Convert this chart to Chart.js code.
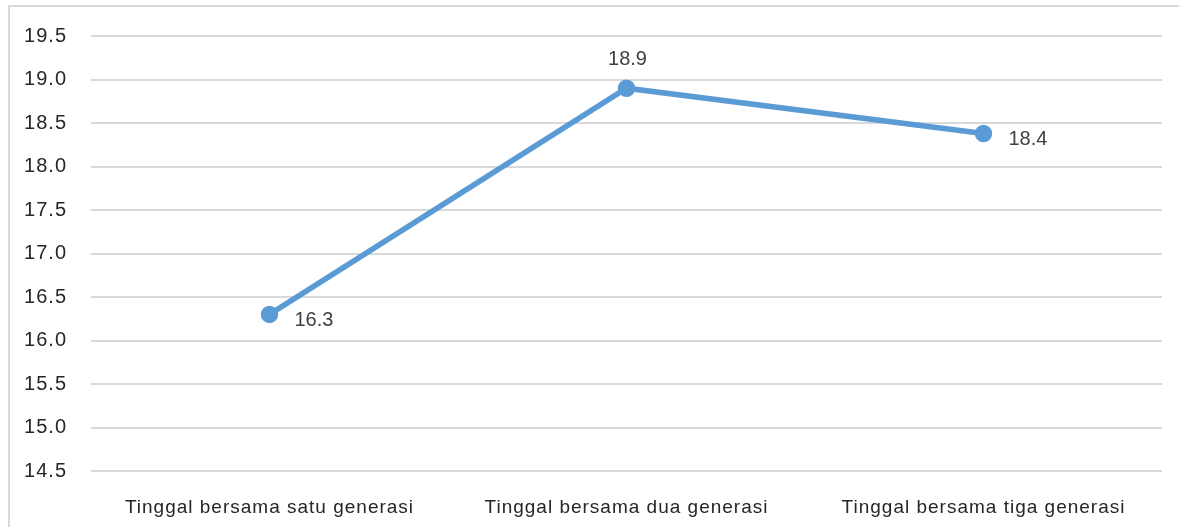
<!DOCTYPE html>
<html>
<head>
<meta charset="utf-8">
<script src="https://cdn.jsdelivr.net/npm/chart.js@4/dist/chart.umd.min.js"></script>
<style>
html,body{margin:0;padding:0;background:#fff;}
#wrap{position:absolute;left:0;top:0;width:1179px;height:527px;}
</style>
</head>
<body>
<div id="wrap"><canvas id="c" width="1179" height="527"></canvas></div>
<script>
const categories = ["Tinggal bersama satu generasi", "Tinggal bersama dua generasi", "Tinggal bersama tiga generasi"];
const values = [16.3, 18.9, 18.38];
const yMin = 14.5, yMax = 19.5, yStep = 0.5;

const frame = {
  id: 'frame',
  beforeDraw(chart) {
    const ctx = chart.ctx;
    ctx.save();
    ctx.strokeStyle = '#d9d9d9';
    ctx.lineWidth = 2;
    ctx.beginPath();
    ctx.moveTo(9, 527);
    ctx.lineTo(9, 6);
    ctx.lineTo(1179, 6);
    ctx.stroke();
    ctx.restore();
    if ('letterSpacing' in ctx) ctx.letterSpacing = '1px';
  }
};

const labelsPlugin = {
  id: 'valueLabels',
  afterDatasetsDraw(chart) {
    const ctx = chart.ctx;
    const meta = chart.getDatasetMeta(0);
    ctx.save();
    if ('letterSpacing' in ctx) ctx.letterSpacing = '0px';
    ctx.font = '20px "Liberation Sans", Arial, sans-serif';
    ctx.fillStyle = '#404040';
    ctx.textBaseline = 'middle';
    meta.data.forEach((pt, i) => {
      const txt = values[i].toFixed(1);
      if (i === 1) {
        ctx.textAlign = 'center';
        ctx.fillText(txt, pt.x + 1, pt.y - 29);
      } else {
        ctx.textAlign = 'left';
        ctx.fillText(txt, pt.x + 25, pt.y + 6);
      }
    });
    ctx.restore();
  }
};

new Chart(document.getElementById('c'), {
  type: 'line',
  data: {
    labels: categories,
    datasets: [{
      data: values,
      borderColor: '#5b9bd5',
      backgroundColor: '#5b9bd5',
      borderWidth: 5.5,
      pointRadius: 6,
      pointHoverRadius: 6,
      tension: 0
    }]
  },
  options: {
    responsive: false,
    animation: false,
    devicePixelRatio: 1,
    layout: { padding: { left: 0, right: 17, top: 34, bottom: 0 } },
    plugins: { legend: { display: false }, tooltip: { enabled: false } },
    scales: {
      x: {
        offset: true,
        grid: { display: false, drawTicks: false, offset: true },
        border: { display: false },
        ticks: {
          color: '#262626',
          font: { family: '"Liberation Sans", Arial, sans-serif', size: 19 },
          padding: 25,
          maxRotation: 0
        },
        afterFit(s) { s.height = 56; }
      },
      y: {
        min: yMin, max: yMax,
        grid: { color: '#d9d9d9', lineWidth: 2, drawTicks: false },
        border: { display: false },
        ticks: {
          stepSize: yStep,
          color: '#262626',
          font: { family: '"Liberation Sans", Arial, sans-serif', size: 20 },
          padding: 24,
          callback: v => Number(v).toFixed(1)
        },
        afterFit(s) { s.width = 91; }
      }
    }
  },
  plugins: [frame, labelsPlugin]
});
</script>
</body>
</html>
